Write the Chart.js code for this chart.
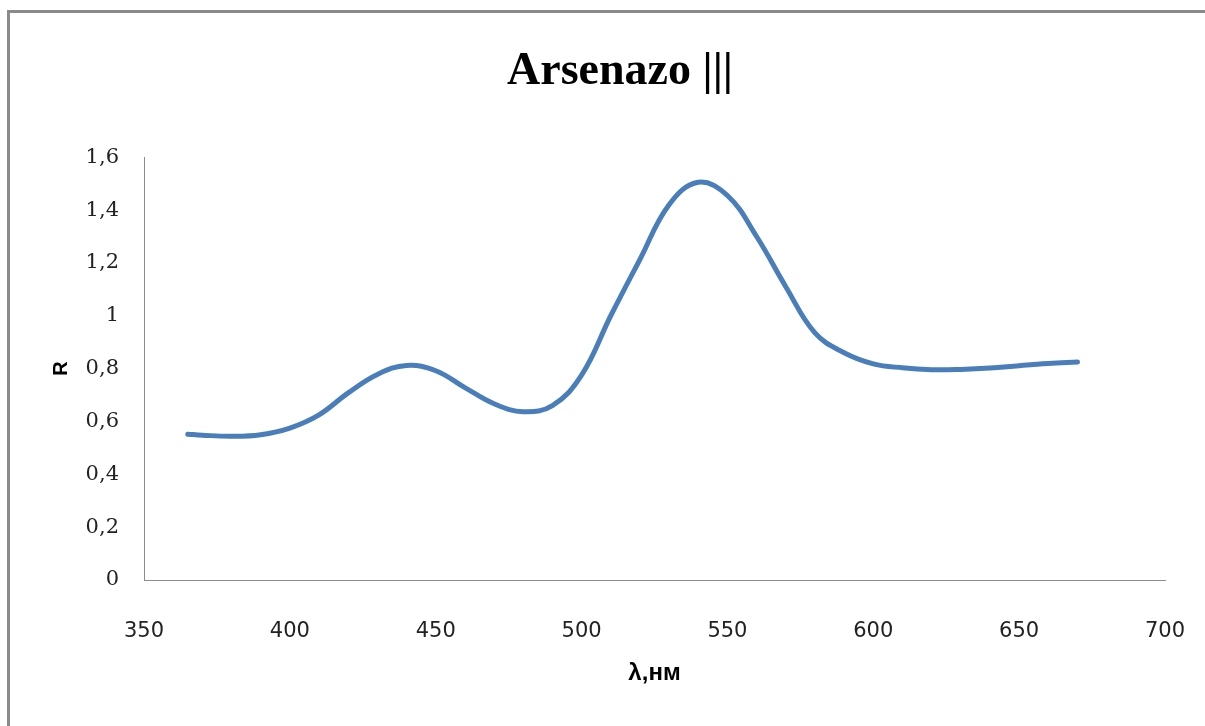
<!DOCTYPE html>
<html>
<head>
<meta charset="utf-8">
<script src="https://cdn.jsdelivr.net/npm/chart.js@4/dist/chart.umd.min.js"></script>
<style>
  html, body { margin: 0; padding: 0; background: #ffffff; overflow: hidden; width: 1205px; height: 726px; }
  #frame { position: absolute; left: 7px; top: 10px; width: 1400px; height: 900px;
           border-top: 3px solid #8a8a8a; border-left: 3px solid #8a8a8a; pointer-events: none; }
  #c { position: absolute; left: 0; top: 0; }
</style>
</head>
<body>
<div id="frame"></div>
<canvas id="c" width="1240" height="726"></canvas>
<script>
// Wavelength, nm
const wavelengths = [365, 370, 380, 390, 400, 410, 420, 430, 440, 450, 460, 470, 480, 490, 500,
                     510, 520, 530, 540, 550, 560, 570, 580, 590, 600, 610, 620, 630, 640, 650, 660, 670];
// R values
const rValues = [0.552, 0.548, 0.544, 0.550, 0.575, 0.625, 0.708, 0.778, 0.812, 0.792, 0.728, 0.667, 0.637, 0.660, 0.775,
                 1.000, 1.213, 1.420, 1.505, 1.455, 1.300, 1.110, 0.935, 0.860, 0.818, 0.803, 0.796, 0.797, 0.802, 0.811, 0.819, 0.825];
const xTicks = [350, 400, 450, 500, 550, 600, 650, 700];
const yTicks = [0, 0.2, 0.4, 0.6, 0.8, 1, 1.2, 1.4, 1.6];

const titleText = 'Arsenazo |||';
const xTitle = 'λ,нм';
const yTitle = 'R';

const points = wavelengths.map((w, i) => ({ x: w, y: rValues[i] }));

new Chart(document.getElementById('c'), {
  type: 'line',
  data: {
    datasets: [{
      data: points,
      borderColor: '#4a7ebb',
      borderWidth: 5,
      pointRadius: 0,
      tension: 0.4,
      fill: false,
      borderCapStyle: 'round',
      borderJoinStyle: 'round'
    }]
  },
  options: {
    responsive: false,
    animation: false,
    layout: { padding: 0 },
    plugins: {
      legend: { display: false },
      tooltip: { enabled: false },
      title: {
        display: true,
        text: titleText,
        color: '#000000',
        font: { family: '"Liberation Serif", "Times New Roman", serif', size: 46, weight: 'bold', lineHeight: 1.2 },
        padding: { top: 45, bottom: 57 }
      }
    },
    scales: {
      x: {
        type: 'linear',
        min: xTicks[0],
        max: xTicks[xTicks.length - 1],
        afterBuildTicks: (axis) => { axis.ticks = xTicks.map(v => ({ value: v })); },
        afterFit: (axis) => { axis.height = 146; },
        grid: { display: false, drawTicks: false },
        border: { display: true, color: '#8c8c8c', width: 1 },
        ticks: {
          color: '#222222',
          padding: 39,
          maxRotation: 0,
          font: { family: '"DejaVu Sans", sans-serif', size: 21 },
          callback: (v) => String(v)
        },
        title: {
          display: true,
          text: xTitle,
          color: '#000000',
          font: { family: '"Liberation Sans", Arial, sans-serif', size: 24, weight: 'bold', lineHeight: 1.2 },
          padding: { top: 0, bottom: 38 }
        }
      },
      y: {
        type: 'linear',
        min: yTicks[0],
        max: yTicks[yTicks.length - 1],
        afterBuildTicks: (axis) => { axis.ticks = yTicks.map(v => ({ value: v })); },
        afterFit: (axis) => { axis.width = 144; },
        grid: { display: false, drawTicks: false },
        border: { display: true, color: '#8c8c8c', width: 1 },
        ticks: {
          color: '#222222',
          padding: 25,
          font: { family: '"DejaVu Serif", serif', size: 21 },
          callback: (v) => String(Number(v.toFixed(1))).replace('.', ',')
        },
        title: {
          display: true,
          text: yTitle,
          color: '#000000',
          font: { family: '"Liberation Sans", Arial, sans-serif', size: 20, weight: 'bold', lineHeight: 1.2 },
          padding: { top: 49, bottom: 0 }
        }
      },
      spacer: {
        type: 'linear',
        position: 'right',
        display: true,
        min: 0,
        max: 1,
        afterFit: (axis) => { axis.width = 75; },
        grid: { display: false, drawTicks: false },
        border: { display: false },
        ticks: { display: false }
      }
    }
  }
});
</script>
</body>
</html>
